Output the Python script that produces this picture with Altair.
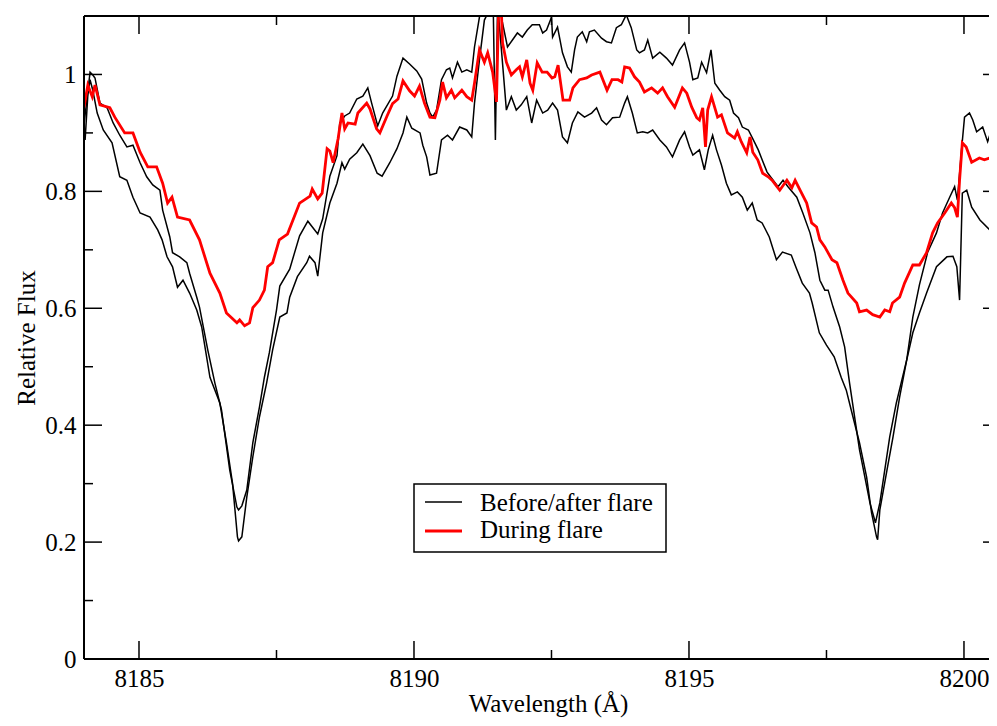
import altair as alt
import pandas as pd

# ---------------- data ----------------
# During flare (red)
wl_during = [8184.00, 8184.07, 8184.15, 8184.20, 8184.29, 8184.47, 8184.56, 8184.74, 8184.89, 8185.02,
             8185.16, 8185.32, 8185.43, 8185.52, 8185.60, 8185.70, 8185.92, 8186.10, 8186.29, 8186.47,
             8186.59, 8186.78, 8186.83, 8186.92, 8187.01, 8187.07, 8187.19, 8187.28, 8187.34, 8187.43,
             8187.55, 8187.70, 8187.92, 8188.11, 8188.15, 8188.25, 8188.33, 8188.42, 8188.47, 8188.53,
             8188.62, 8188.69, 8188.74, 8188.80, 8188.93, 8188.98, 8189.14, 8189.20, 8189.32, 8189.38,
             8189.51, 8189.61, 8189.71, 8189.80, 8189.92, 8190.01, 8190.10, 8190.19, 8190.29, 8190.38,
             8190.47, 8190.52, 8190.59, 8190.68, 8190.74, 8190.87, 8190.96, 8191.05, 8191.10, 8191.19,
             8191.28, 8191.34, 8191.43, 8191.50, 8191.54, 8191.59, 8191.61, 8191.68, 8191.77, 8191.86,
             8191.92, 8191.97, 8192.05, 8192.11, 8192.16, 8192.24, 8192.33, 8192.42, 8192.51, 8192.56,
             8192.62, 8192.71, 8192.83, 8192.89, 8193.01, 8193.14, 8193.23, 8193.38, 8193.51, 8193.60,
             8193.71, 8193.78, 8193.83, 8193.92, 8194.01, 8194.10, 8194.19, 8194.32, 8194.43, 8194.52,
             8194.61, 8194.74, 8194.88, 8194.96, 8195.05, 8195.14, 8195.19, 8195.25, 8195.30, 8195.34,
             8195.41, 8195.52, 8195.59, 8195.70, 8195.83, 8195.88, 8195.95, 8196.05, 8196.11, 8196.16,
             8196.25, 8196.34, 8196.44, 8196.51, 8196.60, 8196.65, 8196.78, 8196.87, 8196.93, 8197.02,
             8197.14, 8197.23, 8197.32, 8197.38, 8197.47, 8197.60, 8197.69, 8197.80, 8197.89, 8198.05,
             8198.10, 8198.23, 8198.34, 8198.47, 8198.56, 8198.65, 8198.70, 8198.83, 8198.92, 8199.07,
             8199.19, 8199.32, 8199.43, 8199.52, 8199.65, 8199.77, 8199.83, 8199.88, 8199.92, 8199.97,
             8200.04, 8200.14, 8200.28, 8200.37, 8200.46, 8200.60]
flux_during = [0.944, 0.982, 0.962, 0.982, 0.948, 0.943, 0.927, 0.900, 0.900, 0.867,
               0.842, 0.842, 0.814, 0.780, 0.790, 0.756, 0.751, 0.717, 0.660, 0.626,
               0.592, 0.575, 0.580, 0.570, 0.575, 0.601, 0.614, 0.631, 0.671, 0.678,
               0.717, 0.727, 0.780, 0.792, 0.804, 0.787, 0.797, 0.873, 0.869, 0.849,
               0.890, 0.934, 0.907, 0.917, 0.915, 0.934, 0.951, 0.941, 0.907, 0.900,
               0.929, 0.950, 0.958, 0.989, 0.972, 0.963, 0.980, 0.951, 0.927, 0.926,
               0.956, 0.987, 0.960, 0.973, 0.960, 0.973, 0.962, 0.956, 0.985, 1.042,
               1.021, 1.037, 1.004, 0.953, 1.120, 1.105, 1.054, 1.021, 0.999, 1.008,
               1.013, 0.996, 1.025, 0.985, 0.973, 1.020, 1.004, 1.004, 0.994, 0.996,
               1.016, 0.956, 0.956, 0.977, 0.991, 0.994, 0.999, 1.004, 0.973, 0.991,
               0.991, 0.987, 1.013, 1.011, 0.996, 0.987, 0.970, 0.977, 0.968, 0.977,
               0.962, 0.944, 0.977, 0.968, 0.944, 0.926, 0.922, 0.943, 0.876, 0.939,
               0.962, 0.927, 0.931, 0.900, 0.891, 0.902, 0.885, 0.866, 0.893, 0.867,
               0.854, 0.831, 0.825, 0.819, 0.808, 0.802, 0.819, 0.806, 0.819, 0.802,
               0.780, 0.746, 0.739, 0.717, 0.705, 0.683, 0.678, 0.648, 0.626, 0.609,
               0.594, 0.597, 0.589, 0.585, 0.597, 0.594, 0.609, 0.619, 0.643, 0.674,
               0.674, 0.695, 0.729, 0.746, 0.763, 0.780, 0.772, 0.756, 0.819, 0.883,
               0.876, 0.850, 0.857, 0.854, 0.857, 0.845]

# Before/after flare, first spectrum (black, shallower cores)
wl_black1 = [8184.00, 8184.11, 8184.16, 8184.20, 8184.29, 8184.42, 8184.53, 8184.65, 8184.78, 8184.89,
             8185.02, 8185.14, 8185.25, 8185.38, 8185.43, 8185.56, 8185.61, 8185.74, 8185.87, 8185.92,
             8186.05, 8186.10, 8186.25, 8186.38, 8186.50, 8186.65, 8186.78, 8186.81, 8186.87, 8186.96,
             8187.07, 8187.19, 8187.28, 8187.37, 8187.50, 8187.56, 8187.74, 8187.92, 8188.07, 8188.25,
             8188.34, 8188.47, 8188.60, 8188.65, 8188.74, 8188.83, 8188.96, 8189.07, 8189.16, 8189.23,
             8189.34, 8189.43, 8189.61, 8189.69, 8189.80, 8189.92, 8190.05, 8190.14, 8190.23, 8190.29,
             8190.34, 8190.41, 8190.50, 8190.59, 8190.65, 8190.70, 8190.79, 8190.87, 8190.96, 8191.05,
             8191.10, 8191.19, 8191.25, 8191.45, 8191.55, 8191.61, 8191.70, 8191.79, 8191.88, 8191.97,
             8192.06, 8192.15, 8192.28, 8192.34, 8192.41, 8192.50, 8192.52, 8192.61, 8192.70, 8192.79,
             8192.86, 8192.92, 8192.97, 8193.06, 8193.14, 8193.19, 8193.28, 8193.41, 8193.50, 8193.59,
             8193.68, 8193.77, 8193.86, 8193.95, 8194.05, 8194.10, 8194.19, 8194.25, 8194.34, 8194.47,
             8194.59, 8194.70, 8194.83, 8194.92, 8195.01, 8195.07, 8195.16, 8195.23, 8195.32, 8195.40,
             8195.47, 8195.56, 8195.65, 8195.74, 8195.81, 8195.90, 8195.97, 8196.08, 8196.17, 8196.26,
             8196.33, 8196.42, 8196.53, 8196.62, 8196.71, 8196.80, 8196.96, 8197.07, 8197.20, 8197.29,
             8197.38, 8197.47, 8197.53, 8197.62, 8197.74, 8197.83, 8197.92, 8198.10, 8198.29, 8198.39,
             8198.47, 8198.65, 8198.77, 8198.96, 8199.07, 8199.19, 8199.34, 8199.50, 8199.61, 8199.74,
             8199.83, 8199.88, 8199.96, 8200.01, 8200.10, 8200.16, 8200.23, 8200.34, 8200.43, 8200.50,
             8200.60]
flux_black1 = [0.914, 1.004, 0.999, 0.994, 0.951, 0.943, 0.917, 0.896, 0.876, 0.879,
               0.849, 0.825, 0.811, 0.802, 0.768, 0.722, 0.695, 0.688, 0.678, 0.660,
               0.619, 0.602, 0.529, 0.472, 0.426, 0.323, 0.260, 0.255, 0.262, 0.289,
               0.370, 0.431, 0.482, 0.524, 0.597, 0.638, 0.667, 0.724, 0.749, 0.727,
               0.753, 0.826, 0.861, 0.917, 0.929, 0.934, 0.958, 0.963, 0.977, 0.951,
               0.912, 0.934, 0.963, 0.997, 1.028, 1.018, 1.006, 0.992, 0.951, 0.934,
               0.927, 0.939, 0.991, 1.008, 1.011, 0.994, 1.021, 1.004, 1.008, 1.004,
               1.047, 1.098, 1.140, 1.140, 1.120, 1.088, 1.047, 1.059, 1.071, 1.064,
               1.076, 1.085, 1.085, 1.071, 1.076, 1.098, 1.064, 1.081, 1.037, 1.013,
               1.004, 1.042, 1.064, 1.073, 1.056, 1.073, 1.076, 1.062, 1.056, 1.054,
               1.080, 1.085, 1.102, 1.080, 1.042, 1.037, 1.042, 1.059, 1.028, 1.038,
               1.028, 1.016, 1.042, 1.054, 1.021, 0.991, 0.994, 1.021, 1.003, 1.042,
               0.985, 0.973, 0.962, 0.956, 0.934, 0.926, 0.910, 0.905, 0.888, 0.871,
               0.854, 0.833, 0.819, 0.808, 0.819, 0.808, 0.790, 0.763, 0.729, 0.695,
               0.648, 0.631, 0.631, 0.602, 0.568, 0.534, 0.472, 0.358, 0.267, 0.233,
               0.267, 0.380, 0.438, 0.512, 0.585, 0.640, 0.696, 0.729, 0.763, 0.790,
               0.808, 0.785, 0.876, 0.927, 0.934, 0.922, 0.902, 0.910, 0.885, 0.905,
               0.902]

# Before/after flare, second spectrum (black, deeper cores)
wl_black2 = [8184.02, 8184.07, 8184.11, 8184.16, 8184.24, 8184.35, 8184.51, 8184.65, 8184.78, 8184.89,
             8185.02, 8185.20, 8185.34, 8185.42, 8185.51, 8185.61, 8185.70, 8185.80, 8185.92, 8186.05,
             8186.14, 8186.29, 8186.47, 8186.59, 8186.70, 8186.79, 8186.81, 8186.87, 8186.96, 8187.07,
             8187.19, 8187.32, 8187.43, 8187.56, 8187.69, 8187.74, 8187.88, 8188.05, 8188.10, 8188.20,
             8188.25, 8188.34, 8188.47, 8188.60, 8188.69, 8188.74, 8188.83, 8188.96, 8189.07, 8189.20,
             8189.33, 8189.42, 8189.56, 8189.69, 8189.80, 8189.87, 8189.96, 8190.11, 8190.16, 8190.23,
             8190.29, 8190.41, 8190.50, 8190.61, 8190.70, 8190.83, 8190.96, 8191.05, 8191.10, 8191.19,
             8191.28, 8191.37, 8191.44, 8191.48, 8191.52, 8191.59, 8191.68, 8191.77, 8191.86, 8191.95,
             8192.05, 8192.14, 8192.23, 8192.34, 8192.43, 8192.52, 8192.61, 8192.70, 8192.79, 8192.88,
             8192.98, 8193.10, 8193.23, 8193.32, 8193.41, 8193.50, 8193.61, 8193.74, 8193.83, 8193.88,
             8193.97, 8194.06, 8194.16, 8194.25, 8194.34, 8194.47, 8194.59, 8194.70, 8194.83, 8194.92,
             8195.01, 8195.07, 8195.19, 8195.28, 8195.35, 8195.43, 8195.50, 8195.59, 8195.68, 8195.77,
             8195.88, 8195.97, 8196.06, 8196.15, 8196.24, 8196.33, 8196.46, 8196.59, 8196.70, 8196.86,
             8196.95, 8197.06, 8197.19, 8197.24, 8197.37, 8197.50, 8197.64, 8197.77, 8197.86, 8197.95,
             8198.10, 8198.23, 8198.32, 8198.41, 8198.43, 8198.47, 8198.60, 8198.71, 8198.83, 8198.96,
             8199.07, 8199.19, 8199.32, 8199.50, 8199.69, 8199.80, 8199.87, 8199.92, 8199.97, 8200.05,
             8200.14, 8200.29, 8200.47, 8200.56, 8200.60]
flux_black2 = [0.888, 0.965, 0.991, 0.973, 0.934, 0.905, 0.883, 0.825, 0.819, 0.790,
               0.763, 0.756, 0.734, 0.717, 0.688, 0.671, 0.636, 0.648, 0.626, 0.597,
               0.568, 0.482, 0.438, 0.370, 0.301, 0.209, 0.202, 0.209, 0.277, 0.346,
               0.414, 0.472, 0.529, 0.585, 0.592, 0.619, 0.654, 0.678, 0.689, 0.678,
               0.655, 0.729, 0.780, 0.814, 0.849, 0.838, 0.855, 0.866, 0.881, 0.861,
               0.831, 0.826, 0.849, 0.873, 0.900, 0.927, 0.908, 0.900, 0.879, 0.859,
               0.828, 0.831, 0.888, 0.896, 0.888, 0.910, 0.905, 0.893, 0.951, 1.025,
               1.093, 1.110, 1.120, 0.888, 1.120, 1.042, 0.939, 0.962, 0.939, 0.948,
               0.962, 0.917, 0.956, 0.934, 0.939, 0.951, 0.939, 0.893, 0.883, 0.917,
               0.936, 0.927, 0.934, 0.943, 0.922, 0.914, 0.926, 0.927, 0.951, 0.962,
               0.934, 0.900, 0.902, 0.900, 0.905, 0.888, 0.876, 0.859, 0.888, 0.902,
               0.876, 0.862, 0.871, 0.837, 0.871, 0.896, 0.871, 0.845, 0.814, 0.794,
               0.799, 0.790, 0.768, 0.780, 0.751, 0.746, 0.722, 0.683, 0.696, 0.691,
               0.669, 0.643, 0.626, 0.609, 0.558, 0.537, 0.517, 0.481, 0.460, 0.426,
               0.370, 0.311, 0.250, 0.209, 0.204, 0.255, 0.323, 0.380, 0.448, 0.512,
               0.558, 0.592, 0.626, 0.671, 0.688, 0.689, 0.671, 0.614, 0.797, 0.802,
               0.773, 0.751, 0.734, 0.743, 0.731]

# axis ticks and legend text
x_major = [8185, 8190, 8195, 8200]
x_minor = [8187.5, 8192.5, 8197.5]
y_major = [0, 0.2, 0.4, 0.6, 0.8, 1.0]
y_minor = [0.1, 0.3, 0.5, 0.7, 0.9]
legend_labels = ["Before/after flare", "During flare"]

# ---------------- chart ----------------
W, H = 905, 643
FONT = "Liberation Serif"
FS = 25

x_scale = alt.Scale(domain=[8184, 8200.455], nice=False, zero=False)
y_scale = alt.Scale(domain=[0, 1.1], nice=False, zero=False)

black_df = pd.concat([
    pd.DataFrame({"wl": wl_black1, "flux": flux_black1, "series": "before"}),
    pd.DataFrame({"wl": wl_black2, "flux": flux_black2, "series": "after"}),
])
red_df = pd.DataFrame({"wl": wl_during, "flux": flux_during})

x_axis = alt.Axis(values=x_major, format="d", ticks=False, tickSize=0, domain=False, grid=False,
                  labelFont=FONT, labelFontSize=FS, labelColor="black", labelPadding=7,
                  labelFlush=False, labelOverlap=False,
                  title="Wavelength (Å)", titleFont=FONT, titleFontSize=FS,
                  titleFontWeight="normal", titleColor="black",
                  titleX=464, titleY=52, titleBaseline="alphabetic", titleAlign="center")
y_axis = alt.Axis(values=y_major, format="~g", ticks=False, tickSize=0, domain=False, grid=False,
                  labelFont=FONT, labelFontSize=FS, labelColor="black", labelPadding=8,
                  labelFlush=False, labelOverlap=False,
                  title="Relative Flux", titleFont=FONT, titleFontSize=FS,
                  titleFontWeight="normal", titleColor="black", titlePadding=5)

def X(field):
    return alt.X(field, scale=x_scale, axis=x_axis)

def Y(field):
    return alt.Y(field, scale=y_scale, axis=y_axis)

black = alt.Chart(black_df).mark_line(color="black", strokeWidth=1.5, clip=True).encode(
    x=X("wl:Q"), y=Y("flux:Q"), detail="series:N",
)
red = alt.Chart(red_df).mark_line(color="#ff0000", strokeWidth=2.8, clip=True).encode(
    x=X("wl:Q"), y=Y("flux:Q"),
)

def xticks(vals, length):
    d = pd.DataFrame({"wl": vals})
    base = alt.Chart(d).mark_rule(color="black", strokeWidth=1.5)
    bottom = base.encode(x=X("wl:Q"), y=alt.value(H), y2=alt.value(H - length))
    top = base.encode(x=X("wl:Q"), y=alt.value(0), y2=alt.value(length))
    return [bottom, top]

def yticks_left(vals, length):
    d = pd.DataFrame({"flux": vals})
    return alt.Chart(d).mark_rule(color="black", strokeWidth=1.5).encode(
        y=Y("flux:Q"), x=alt.value(0), x2=alt.value(length))

# right-hand axis lies just beyond the visible edge: only the inner ends of its long ticks show
right_ticks = alt.Chart(pd.DataFrame({"flux": y_major})).mark_rule(
    color="black", strokeWidth=1.5).encode(
    y=Y("flux:Q"), x=alt.value(W - 6), x2=alt.value(W))

one = pd.DataFrame({"k": [0]})
frame_left = alt.Chart(one).mark_rule(color="black", strokeWidth=2).encode(
    x=alt.value(0), y=alt.value(0), y2=alt.value(H))
frame_top = alt.Chart(one).mark_rule(color="black", strokeWidth=2).encode(
    y=alt.value(0), x=alt.value(0), x2=alt.value(W))
frame_bottom = alt.Chart(one).mark_rule(color="black", strokeWidth=2).encode(
    y=alt.value(H), x=alt.value(0), x2=alt.value(W))

# legend (drawn in pixel space inside the plot)
leg_box = alt.Chart(one).mark_rect(fill="white", stroke="black", strokeWidth=1.5).encode(
    x=alt.value(330), x2=alt.value(582), y=alt.value(468), y2=alt.value(536))
leg_line1 = alt.Chart(one).mark_rule(color="black", strokeWidth=1.5).encode(
    x=alt.value(341), x2=alt.value(378), y=alt.value(486))
leg_line2 = alt.Chart(one).mark_rule(color="#ff0000", strokeWidth=2.8).encode(
    x=alt.value(341), x2=alt.value(378), y=alt.value(515))
leg_text1 = alt.Chart(pd.DataFrame({"label": [legend_labels[0]]})).mark_text(
    align="left", baseline="alphabetic", font=FONT, fontSize=FS, color="black").encode(
    x=alt.value(396), y=alt.value(495), text="label:N")
leg_text2 = alt.Chart(pd.DataFrame({"label": [legend_labels[1]]})).mark_text(
    align="left", baseline="alphabetic", font=FONT, fontSize=FS, color="black").encode(
    x=alt.value(396), y=alt.value(522), text="label:N")

layers = [black, red] + xticks(x_major, 18) + xticks(x_minor, 9) \
    + [yticks_left(y_major, 18), yticks_left(y_minor, 9), right_ticks] \
    + [leg_box, leg_line1, leg_line2, leg_text1, leg_text2, frame_left, frame_top, frame_bottom]

chart = alt.layer(*layers).properties(
    width=W, height=H,
    padding={"left": 76, "top": 8, "right": 0, "bottom": 59},
    autosize=alt.AutoSizeParams(type="none"),
    background="white",
).configure_view(stroke="transparent")

chart.save("out.html", embed_options={"renderer": "svg", "actions": False})
